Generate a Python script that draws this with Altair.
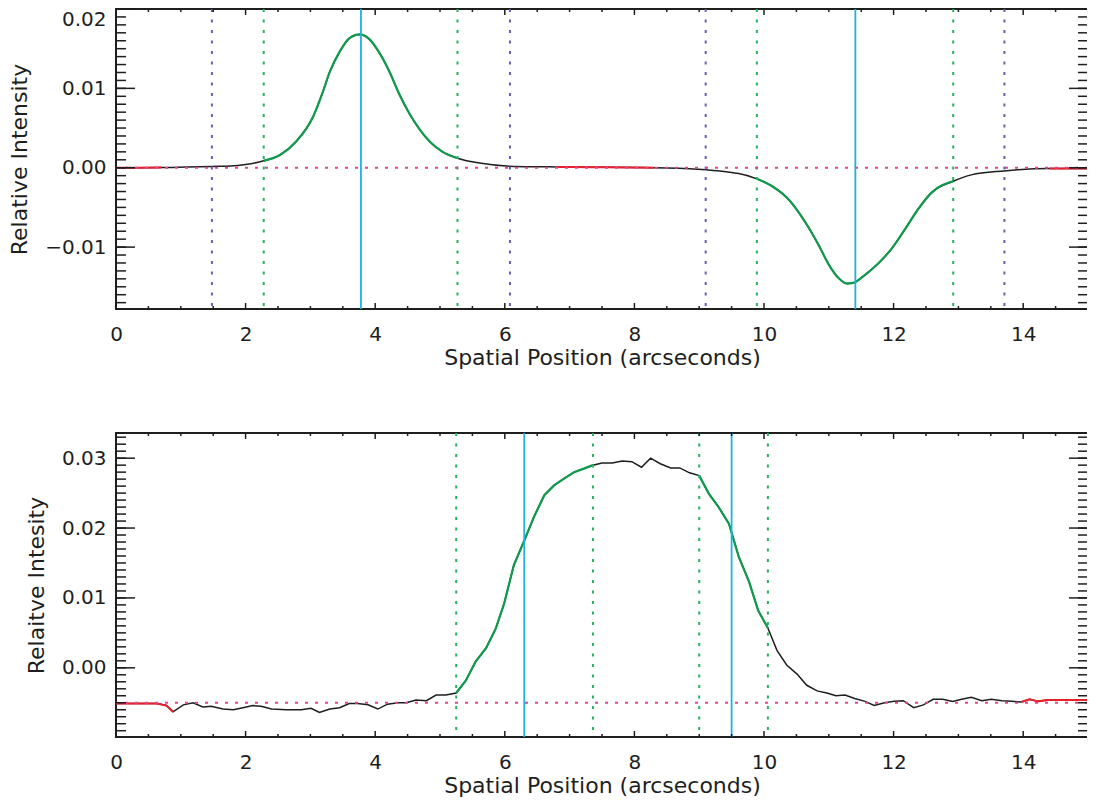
import altair as alt
import pandas as pd

# ---------------- data: top panel ----------------
top_x = [0.0, 0.35, 0.7, 1.1, 1.48, 1.76, 2.0, 2.28, 2.53, 2.78, 3.04, 3.19, 3.30, 3.45,
         3.60, 3.76, 3.91, 4.07, 4.22, 4.37, 4.53, 4.68, 4.84, 5.04, 5.27, 5.61, 6.07,
         6.5, 6.8, 7.0, 7.5, 8.0, 8.3, 8.5, 9.1, 9.5, 9.61, 9.89, 10.12, 10.38, 10.64,
         10.84, 11.0, 11.15, 11.28, 11.38, 11.56, 11.77, 11.97, 12.18, 12.38, 12.59,
         12.92, 13.20, 13.71, 13.92, 14.4, 15.0]
top_y = [0.0, 0.0, 0.00002, 0.0001, 0.00017, 0.00022, 0.0004, 0.00087, 0.0016, 0.0033,
         0.0064, 0.0095, 0.0121, 0.0146, 0.0163, 0.0168, 0.0162, 0.0144, 0.0121, 0.0093,
         0.0068, 0.0049, 0.0033, 0.0020, 0.0012, 0.0006, 0.0002, 0.00012, 0.0001, 0.00008,
         0.00005, 0.00002, 0.0, -0.00003, -0.00025, -0.0006, -0.00074, -0.0014, -0.0023,
         -0.0040, -0.0069, -0.0097, -0.0122, -0.0139, -0.0146, -0.0145, -0.0135, -0.0120,
         -0.0102, -0.0077, -0.0052, -0.0031, -0.0017, -0.0009, -0.0004, -0.00025, -0.0001,
         -0.0001]
top_green_dotted = [2.28, 5.27, 9.89, 12.92]
top_blue_dotted = [1.48, 6.08, 9.10, 13.71]
top_cyan = [3.78, 11.41]
top_baseline = [0.0]
top_green_ranges = [(2.28, 5.27), (9.89, 12.92)]
top_red_ranges = [(0.0, 0.7), (6.8, 8.3), (14.4, 15.0)]
top_y_domain = [-0.0178, 0.02]
top_y_major = [-0.01, 0.0, 0.01, 0.02]
top_y_minor = [round(-0.017 + 0.001 * i, 4) for i in range(38)]

# ---------------- data: bottom panel ----------------
bot_x = [0.0, 0.32, 0.63, 0.78, 0.88, 1.04, 1.19, 1.34, 1.47, 1.65, 1.81, 1.96, 2.11, 2.24,
         2.40, 2.63, 2.86, 3.01, 3.14, 3.30, 3.45, 3.60, 3.73, 3.89, 4.04, 4.19, 4.35, 4.48,
         4.63, 4.79, 4.94, 5.09, 5.25, 5.40, 5.55, 5.71, 5.86, 5.99, 6.14, 6.30, 6.45, 6.61,
         6.76, 6.92, 7.07, 7.22, 7.36, 7.50, 7.66, 7.81, 7.96, 8.11, 8.25, 8.40, 8.56, 8.70,
         8.85, 9.00, 9.15, 9.30, 9.46, 9.61, 9.77, 9.91, 10.06, 10.20, 10.35, 10.51, 10.66,
         10.82, 10.97, 11.11, 11.25, 11.40, 11.56, 11.70, 11.86, 12.01, 12.15, 12.31, 12.46,
         12.61, 12.76, 12.91, 13.05, 13.20, 13.36, 13.51, 13.67, 13.82, 13.97, 14.10, 14.23,
         14.38, 14.7, 15.0]
bot_y = [-0.0051, -0.0051, -0.0051, -0.0054, -0.0063, -0.0053, -0.0050, -0.0056, -0.0055,
         -0.0059, -0.0060, -0.0057, -0.0054, -0.0055, -0.0059, -0.0060, -0.0060, -0.0058,
         -0.0064, -0.0059, -0.0057, -0.0051, -0.0051, -0.0053, -0.0059, -0.0052, -0.0050,
         -0.0050, -0.0046, -0.0047, -0.0039, -0.0039, -0.0036, -0.0018, 0.0009, 0.0028,
         0.0056, 0.0092, 0.0147, 0.0182, 0.0216, 0.0247, 0.0261, 0.0271, 0.0280, 0.0285,
         0.0290, 0.0293, 0.0293, 0.0296, 0.0295, 0.0287, 0.0300, 0.0292, 0.0286, 0.0286,
         0.0279, 0.0275, 0.0249, 0.0230, 0.0206, 0.0159, 0.0123, 0.0082, 0.0057, 0.0025,
         0.0004, -0.0009, -0.0025, -0.0033, -0.0036, -0.0040, -0.0039, -0.0044, -0.0048,
         -0.0054, -0.0050, -0.0048, -0.0047, -0.0057, -0.0053, -0.0045, -0.0045, -0.0048,
         -0.0045, -0.0042, -0.0047, -0.0045, -0.0047, -0.0048, -0.0049, -0.0045, -0.0048,
         -0.0046, -0.0046, -0.0046]
bot_green_dotted = [5.25, 7.36, 9.00, 10.06]
bot_blue_dotted = []
bot_cyan = [6.30, 9.50]
bot_baseline = [-0.005]
bot_green_ranges = [(5.25, 7.36), (9.00, 10.06)]
bot_red_ranges = [(0.0, 0.88), (13.97, 15.0)]
bot_y_domain = [-0.0099, 0.0336]
bot_y_major = [0.0, 0.01, 0.02, 0.03]
bot_y_minor = [round(-0.009 + 0.001 * i, 4) for i in range(43)]

x_major = [0, 2, 4, 6, 8, 10, 12, 14]
x_minor = [0.5, 1, 1.5, 2.5, 3, 3.5, 4.5, 5, 5.5, 6.5, 7, 7.5, 8.5, 9, 9.5, 10.5, 11,
           11.5, 12.5, 13, 13.5, 14.5]

W = 972
FONT = "DejaVu Sans"
INK = "#1e1e1e"


def segments(df, ranges):
    parts = []
    for i, (a, b) in enumerate(ranges):
        sub = df[(df.x >= a - 1e-9) & (df.x <= b + 1e-9)].copy()
        sub["seg"] = i
        parts.append(sub)
    return pd.concat(parts, ignore_index=True)


def panel(xs, ys, H, ydom, ytitle, ymaj, ymin, gdot, bdot, cyan, base, gr, rr, interp):
    df = pd.DataFrame({"x": xs, "y": ys})
    xscale = alt.Scale(domain=[0, 15], nice=False, zero=False)
    yscale = alt.Scale(domain=ydom, nice=False, zero=False)
    xaxis = alt.Axis(title="Spatial Position (arcseconds)", values=x_major, format="d",
                     ticks=False, tickSize=0, domain=False, grid=False, labelPadding=15,
                     titlePadding=3, labelFlush=False)
    yaxis = alt.Axis(title=ytitle, values=ymaj, format=".2f", ticks=False, tickSize=0,
                     domain=False, grid=False, labelPadding=10, titlePadding=13,
                     labelFlush=True)
    X = alt.X("x:Q", scale=xscale, axis=xaxis)
    Y = alt.Y("y:Q", scale=yscale, axis=yaxis)

    layers = []
    layers.append(alt.Chart(df).mark_line(color=INK, strokeWidth=1.5, interpolate=interp,
                                          clip=True).encode(x=X, y=Y))
    layers.append(alt.Chart(segments(df, rr)).mark_line(color="#e8202a", strokeWidth=2,
                                                        interpolate=interp, clip=True)
                  .encode(x=X, y=Y, detail="seg:N"))
    layers.append(alt.Chart(segments(df, gr)).mark_line(color="#0f9a4c", strokeWidth=2.2,
                                                        interpolate=interp, clip=True)
                  .encode(x=X, y=Y, detail="seg:N"))
    if bdot:
        layers.append(alt.Chart(pd.DataFrame({"x": bdot})).mark_rule(
            color="#6262b4", strokeWidth=2, strokeDash=[3, 7.5]).encode(x=X))
    layers.append(alt.Chart(pd.DataFrame({"x": gdot})).mark_rule(
        color="#25b160", strokeWidth=2, strokeDash=[3, 7.5]).encode(x=X))
    layers.append(alt.Chart(pd.DataFrame({"x": cyan})).mark_rule(
        color="#1fb0e6", strokeWidth=1.8).encode(x=X))
    layers.append(alt.Chart(pd.DataFrame({"y": base})).mark_rule(
        color="#e8409a", strokeWidth=2, strokeDash=[3, 7]).encode(y=Y))

    # inward ticks on all four sides
    for vals, L in ((x_major, 6), (x_minor, 3)):
        d = pd.DataFrame({"x": vals})
        layers.append(alt.Chart(d).mark_rule(color=INK, strokeWidth=1.5).encode(
            x=X, y=alt.value(H), y2=alt.value(H - L)))
        layers.append(alt.Chart(d).mark_rule(color=INK, strokeWidth=1.5).encode(
            x=X, y=alt.value(0), y2=alt.value(L)))
    for vals, L in ((ymaj, 19), (ymin, 10)):
        d = pd.DataFrame({"y": vals})
        layers.append(alt.Chart(d).mark_rule(color=INK, strokeWidth=1.5).encode(
            y=Y, x=alt.value(0), x2=alt.value(L)))
        layers.append(alt.Chart(d).mark_rule(color=INK, strokeWidth=1.5).encode(
            y=Y, x=alt.value(W), x2=alt.value(W - L)))

    return alt.layer(*layers).properties(width=W, height=H)


top = panel(top_x, top_y, 300, top_y_domain, "Relative Intensity", top_y_major,
            top_y_minor, top_green_dotted, top_blue_dotted, top_cyan, top_baseline,
            top_green_ranges, top_red_ranges, "monotone")
bottom = panel(bot_x, bot_y, 304, bot_y_domain, "Relaitve Intesity", bot_y_major,
               bot_y_minor, bot_green_dotted, bot_blue_dotted, bot_cyan, bot_baseline,
               bot_green_ranges, bot_red_ranges, "linear")

chart = alt.vconcat(top, bottom, spacing=124, bounds="flush").properties(
    padding={"left": -1, "top": -1, "right": -3, "bottom": 0}
).configure_view(stroke=INK, strokeWidth=2).configure_axis(
    labelFont=FONT, labelFontSize=20, labelColor=INK,
    titleFont=FONT, titleFontSize=22, titleFontWeight="normal", titleColor=INK
)

chart.save("out.html", embed_options={"renderer": "svg", "actions": False})
